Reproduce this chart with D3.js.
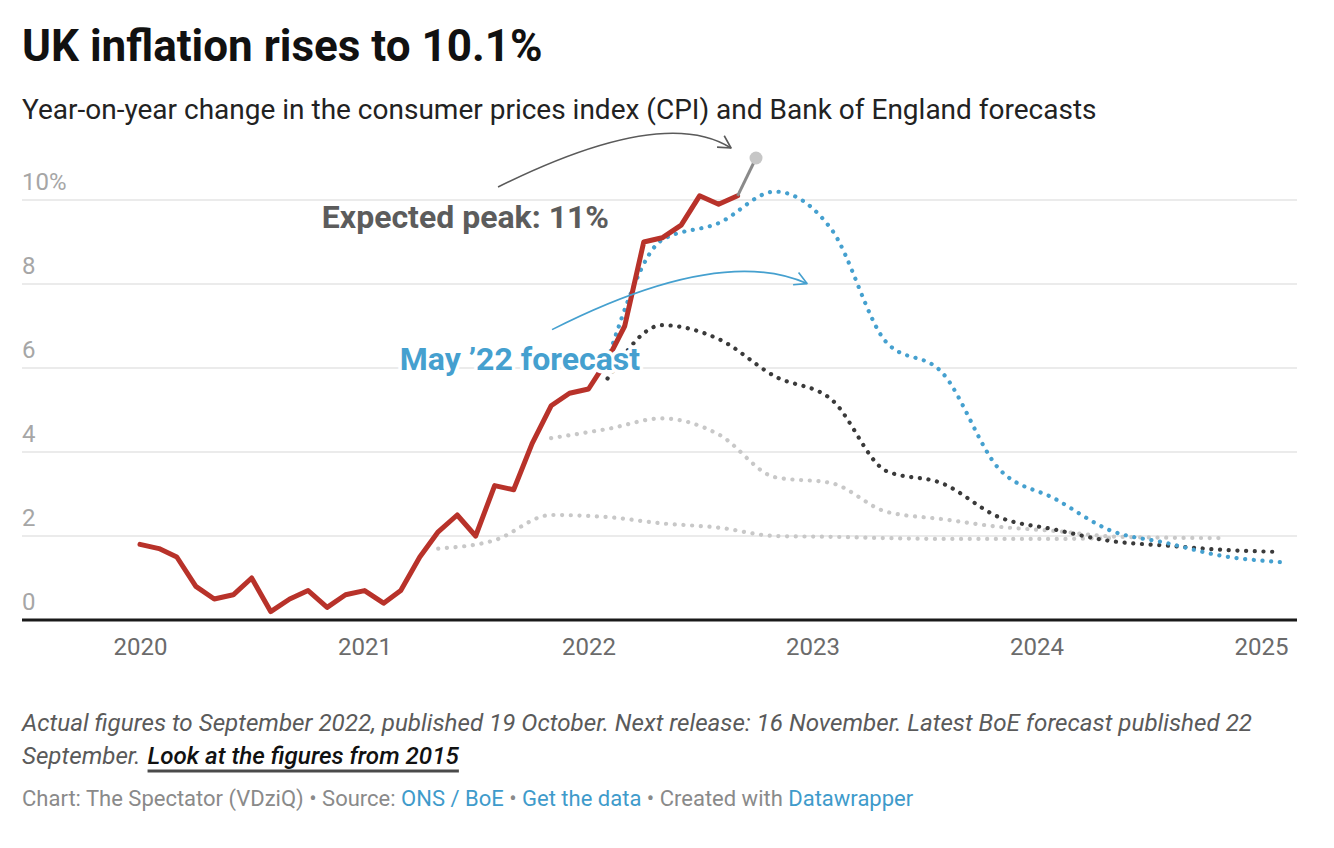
<!DOCTYPE html>
<html><head><meta charset="utf-8">
<script src="https://cdn.jsdelivr.net/npm/d3@7"></script>
<style>
body{margin:0;background:#fff;}
text{font-family:Roboto,"Noto Sans",sans-serif;}
</style>
</head><body>
<svg id="chart" width="1334" height="848"></svg>
<script>
// ---------- DATA ----------
const cpiStart = "2020-01-01";
const cpiActual = [1.8,1.7,1.5,0.8,0.5,0.6,1.0,0.2,0.5,0.7,0.3,0.6,
                   0.7,0.4,0.7,1.5,2.1,2.5,2.0,3.2,3.1,4.2,5.1,5.4,
                   5.5,6.2,7.0,9.0,9.1,9.4,10.1,9.9,10.1];
const peakDates  = ["2022-09-01","2022-10-01"];
const peakValues = [10.1, 11];

const may21Dates  = ["2021-05-01","2021-08-01","2021-11-01","2022-02-01","2022-05-01","2022-08-01","2022-11-01","2023-02-01","2023-05-01","2023-08-01","2023-11-01","2024-02-01","2024-05-01"];
const may21Values = [1.7,1.9,2.5,2.45,2.3,2.2,2.0,1.98,1.95,1.93,1.93,1.93,1.95];

const nov21Dates  = ["2021-11-01","2022-02-01","2022-05-01","2022-08-01","2022-11-01","2023-02-01","2023-05-01","2023-08-01","2023-11-01","2024-02-01","2024-05-01","2024-08-01","2024-11-01"];
const nov21Values = [4.33,4.55,4.8,4.42,3.4,3.26,2.58,2.4,2.22,2.12,1.99,1.96,1.95];

const feb22Dates  = ["2022-02-01","2022-05-01","2022-08-01","2022-11-01","2023-02-01","2023-05-01","2023-08-01","2023-11-01","2024-02-01","2024-05-01","2024-08-01","2024-11-01","2025-02-01"];
const feb22Values = [5.75,7.02,6.69,5.8,5.25,3.55,3.25,2.45,2.15,1.88,1.77,1.67,1.62];

const may22Dates  = ["2022-02-01","2022-05-01","2022-08-01","2022-11-01","2023-02-01","2023-05-01","2023-08-01","2023-11-01","2024-02-01","2024-05-01","2024-08-01","2024-11-01","2025-02-01"];
const may22Values = [6.2,9.05,9.45,10.2,9.3,6.62,5.88,3.6,2.88,2.13,1.83,1.52,1.38];

const yearTicks = ["2020","2021","2022","2023","2024","2025"];
const yTicks = [0,2,4,6,8,10];
const yTickLabels = ["0","2","4","6","8","10%"];

// ---------- SETUP ----------
const svg = d3.select("#chart");
const parse = d3.utcParse("%Y-%m-%d");
const left = 22, right = 1297;
const x = d3.scaleUtc().domain([parse("2020-01-01"), parse("2025-01-01")]).range([140, 1261]);
const y = d3.scaleLinear().domain([0, 10]).range([620, 200]);

const cpiDates = d3.utcMonth.range(parse(cpiStart), d3.utcMonth.offset(parse(cpiStart), cpiActual.length));
const zip = (ds, vs) => ds.map((d, i) => ({date: typeof d === "string" ? parse(d) : d, value: vs[i]}));

// ---------- TITLES ----------
svg.append("text").attr("x", left).attr("y", 61).attr("font-size", 44).attr("font-weight", 700)
  .attr("fill", "#111").text("UK inflation rises to 10.1%");
svg.append("text").attr("x", left).attr("y", 119).attr("font-size", 28).attr("fill", "#222")
  .text("Year-on-year change in the consumer prices index (CPI) and Bank of England forecasts");

// ---------- GRID ----------
const grid = svg.append("g");
yTicks.filter(t => t > 0).forEach(t => {
  grid.append("line").attr("x1", left).attr("x2", right).attr("y1", y(t)).attr("y2", y(t))
    .attr("stroke", "#e4e4e4").attr("stroke-width", 1.5);
});
yTicks.forEach((t, i) => {
  grid.append("text").attr("x", left).attr("y", y(t) - 10).attr("font-size", 24).attr("fill", "#a6a6a6")
    .text(yTickLabels[i]);
});

const xAxis = d3.axisBottom(x)
  .tickValues(yearTicks.map(s => parse(s + "-01-01")))
  .tickFormat(d3.utcFormat("%Y")).tickSize(0).tickPadding(0);
const gx = svg.append("g").attr("transform", "translate(0,655)").call(xAxis);
gx.select(".domain").remove();
gx.selectAll("text").attr("font-size", 24).attr("fill", "#6b6b6b").attr("dy", 0)
  .style("font-family", "Roboto");

// ---------- LINES ----------
const lineSmooth = d3.line().x(d => x(d.date)).y(d => y(d.value)).curve(d3.curveMonotoneX);
const lineStraight = d3.line().x(d => x(d.date)).y(d => y(d.value));

function dotted(data, color, w) {
  svg.append("path").datum(data).attr("d", lineSmooth).attr("fill", "none")
    .attr("stroke", color).attr("stroke-width", w).attr("stroke-linecap", "round")
    .attr("stroke-dasharray", "0.1 8.6");
}
dotted(zip(may21Dates, may21Values), "#c8c8c8", 4.2);
dotted(zip(nov21Dates, nov21Values), "#c8c8c8", 4.2);
dotted(zip(feb22Dates, feb22Values), "#3a3a3a", 4.2);
dotted(zip(may22Dates, may22Values), "#45a0cf", 4.2);

svg.append("line").attr("x1", left).attr("x2", right).attr("y1", y(0)).attr("y2", y(0))
  .attr("stroke", "#1a1a1a").attr("stroke-width", 3);

svg.append("path").datum(zip(cpiDates, cpiActual)).attr("d", lineStraight).attr("fill", "none")
  .attr("stroke", "#b8322a").attr("stroke-width", 5).attr("stroke-linejoin", "round").attr("stroke-linecap", "round");

const peak = zip(peakDates, peakValues);
svg.append("path").datum(peak).attr("d", lineStraight).attr("fill", "none")
  .attr("stroke", "#8a8a8a").attr("stroke-width", 3);
svg.append("circle").attr("cx", x(peak[1].date)).attr("cy", y(peak[1].value)).attr("r", 6.5)
  .attr("fill", "#c6c6c6");

// ---------- ANNOTATIONS ----------
function arrow(p0, c, p1, color) {
  svg.append("path").attr("d", `M${p0[0]},${p0[1]} Q${c[0]},${c[1]} ${p1[0]},${p1[1]}`)
    .attr("fill", "none").attr("stroke", color).attr("stroke-width", 1.6);
  const ang = Math.atan2(p1[1] - c[1], p1[0] - c[0]);
  const L = 14, a = 0.5;
  const pts = [[p1[0] - L * Math.cos(ang - a), p1[1] - L * Math.sin(ang - a)], p1,
               [p1[0] - L * Math.cos(ang + a), p1[1] - L * Math.sin(ang + a)]];
  svg.append("path").attr("d", d3.line()(pts)).attr("fill", "none").attr("stroke", color)
    .attr("stroke-width", 1.6).attr("stroke-linejoin", "round");
}
const P = [x(peak[1].date), y(peak[1].value)];
const mayPeak = zip(may22Dates, may22Values)[3];
const B = [x(mayPeak.date), y(mayPeak.value)];

arrow([P[0] - 258, P[1] + 29], [P[0] - 93, P[1] - 53], [P[0] - 25, P[1] - 10], "#5a5a5a");
arrow([B[0] - 223, B[1] + 138], [B[0] - 55, B[1] + 53], [B[0] + 32, B[1] + 92], "#45a0cf");

function label(txt, xx, yy, color) {
  svg.append("text").attr("x", xx).attr("y", yy).attr("text-anchor", "end")
    .attr("font-size", 32).attr("font-weight", 700).attr("fill", color)
    .attr("stroke", "#fff").attr("stroke-width", 7).attr("stroke-linejoin", "round")
    .style("paint-order", "stroke").text(txt);
}
label("Expected peak: 11%", P[0] - 147, P[1] + 70, "#5c5c5c");
label("May \u201922 forecast", B[0] - 135, B[1] + 178, "#45a0cf");

// ---------- FOOTER ----------
svg.append("text").attr("x", left).attr("y", 731).attr("font-size", 24.2).attr("font-style", "italic")
  .attr("fill", "#5a5a5a")
  .text("Actual figures to September 2022, published 19 October. Next release: 16 November. Latest BoE forecast published 22");
const sep = svg.append("text").attr("x", left).attr("y", 764).attr("font-size", 24.2).attr("font-style", "italic")
  .attr("fill", "#5a5a5a").text("September.");
const sepW = sep.node().getComputedTextLength();
const linkX = left + sepW + 7;
const link = svg.append("text").attr("x", linkX).attr("y", 764).attr("font-size", 24.2).attr("font-style", "italic")
  .attr("font-weight", 500).attr("fill", "#111").text("Look at the figures from 2015");
const linkW = link.node().getComputedTextLength();
svg.append("line").attr("x1", linkX).attr("x2", linkX + linkW).attr("y1", 771).attr("y2", 771)
  .attr("stroke", "#4a4a4a").attr("stroke-width", 3);

const cr = svg.append("text").attr("x", left).attr("y", 806).attr("font-size", 22).attr("fill", "#8a8a8a");
[["Chart: The Spectator (VDziQ) \u2022 Source: ", "#8a8a8a"], ["ONS / BoE", "#3f9bcb"],
 [" \u2022 ", "#8a8a8a"], ["Get the data", "#3f9bcb"], [" \u2022 Created with ", "#8a8a8a"], ["Datawrapper", "#3f9bcb"]]
 .forEach(([t, c]) => cr.append("tspan").attr("fill", c).text(t));
</script>
</body></html>
